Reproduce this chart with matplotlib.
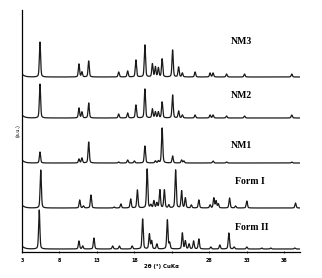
"""Stacked powder XRD patterns for NM1-NM3 and Forms I/II."""

import matplotlib.pyplot as plt
import numpy as np

# peak positions (2theta, deg) and heights (arbitrary units)
nm3_pos = [5.4, 10.6, 11.0, 11.9, 15.9, 17.1, 18.2, 19.4, 20.4, 20.8, 21.2, 21.7,
           23.1, 23.9, 24.4, 26.1, 28.1, 28.5, 30.3, 32.7, 39.0]
nm3_int = [35, 13, 5, 16, 5, 6, 17, 32, 13, 10, 9, 18, 27, 10, 4, 5, 4, 4, 3, 3, 3]

nm2_pos = [5.4, 10.6, 11.0, 11.9, 15.9, 17.1, 18.2, 19.4, 20.4, 20.8, 21.2, 21.7,
           23.1, 23.9, 24.4, 26.1, 28.1, 28.5, 30.3, 32.7, 39.0]
nm2_int = [34, 10, 6, 15, 4, 5, 13, 29, 9, 6, 6, 16, 23, 7, 3, 3, 3, 3, 2, 2, 3]

nm1_pos = [5.4, 10.6, 11.0, 11.9, 15.9, 17.1, 18.0, 19.4, 20.8, 21.2, 21.7,
           23.1, 24.3, 24.6, 28.5, 30.3, 39.0]
nm1_int = [11, 4, 5, 21, 1, 3, 2, 17, 2, 2, 35, 7, 3, 2, 2, 1, 1]

form1_pos = [5.5, 10.7, 11.2, 12.2, 15.3, 16.2, 17.5, 18.4, 19.7, 20.2, 20.6, 21.0,
             21.4, 22.0, 22.6, 23.5, 24.3, 24.8, 25.6, 26.6, 28.1, 28.6, 28.9, 29.2,
             30.7, 31.5, 33.0, 39.5]
form1_int = [38, 8, 2, 13, 1, 4, 9, 18, 39, 3, 7, 5, 18, 18, 3, 38, 17, 10, 3, 8,
             3, 10, 7, 4, 10, 2, 7, 5]

form2_pos = [5.3, 10.6, 11.1, 12.6, 15.1, 16.0, 17.7, 19.1, 20.0, 20.3, 21.0, 22.4,
             22.7, 24.4, 24.8, 25.3, 25.9, 26.6, 28.2, 29.4, 30.6, 31.3, 33.0, 35.0,
             36.2, 39.4]
form2_int = [39, 8, 3, 11, 3, 3, 3, 30, 15, 8, 5, 29, 6, 16, 8, 5, 8, 10, 2, 4,
             16, 2, 2, 1, 1, 1]

names = ["NM3", "NM2", "NM1", "Form I", "Form II"]
positions = [nm3_pos, nm2_pos, nm1_pos, form1_pos, form2_pos]
intensities = [nm3_int, nm2_int, nm1_int, form1_int, form2_int]
offsets = [175, 134, 89, 44, 3]
label_xy = [(30.9, 210), (30.9, 157), (30.9, 107), (31.4, 70), (31.4, 25)]

xticks = [3, 8, 13, 18, 23, 28, 33, 38]
xtick_labels = ["3", "8", "13", "18", "", "28", "33", "38"]


def pattern(tt, pos, inten, width=0.08):
    y = np.zeros_like(tt)
    for p, h in zip(pos, inten):
        g = np.exp(-0.5 * ((tt - p) / width) ** 2)
        lor = 1.0 / (1.0 + ((tt - p) / (1.4 * width)) ** 2)
        y += h * (0.7 * g + 0.3 * lor)
    # low-angle background drop at the start of each scan
    y += 3.0 * np.exp(-(tt - 3.0) / 0.35)
    return y


tt = np.linspace(3.0, 40.1, 6000)

fig = plt.figure(figsize=(3.22, 2.78), dpi=100)
ax = fig.add_axes([22 / 322, 26 / 278, 278 / 322, 242 / 278])

for name, pos, inten, off, (lx, ly) in zip(names, positions, intensities,
                                           offsets, label_xy):
    ax.plot(tt, off + pattern(tt, pos, inten), color="#1a1a1a", lw=0.9)
    ax.text(lx, ly, name, fontsize=7, fontweight="bold",
            family="Liberation Serif", va="center", ha="left")

ax.set_xlim(3, 40.1)
ax.set_ylim(0, 242)
ax.set_xticks(xticks)
ax.set_xticklabels(xtick_labels, fontsize=3.5, fontweight="bold")
ax.set_yticks([])
ax.tick_params(axis="x", length=2, width=0.6, pad=3.5, direction="inout")
for side in ("top", "right"):
    ax.spines[side].set_visible(False)
for side in ("left", "bottom"):
    ax.spines[side].set_linewidth(0.9)

ax.set_xlabel("2θ (°) CuKα", fontsize=4, fontweight="bold", labelpad=0)
ax.xaxis.set_label_coords(0.5, -0.05)
ax.set_ylabel("(a.u.)", fontsize=3.5, labelpad=1)

fig.savefig("out.png", dpi=100)
